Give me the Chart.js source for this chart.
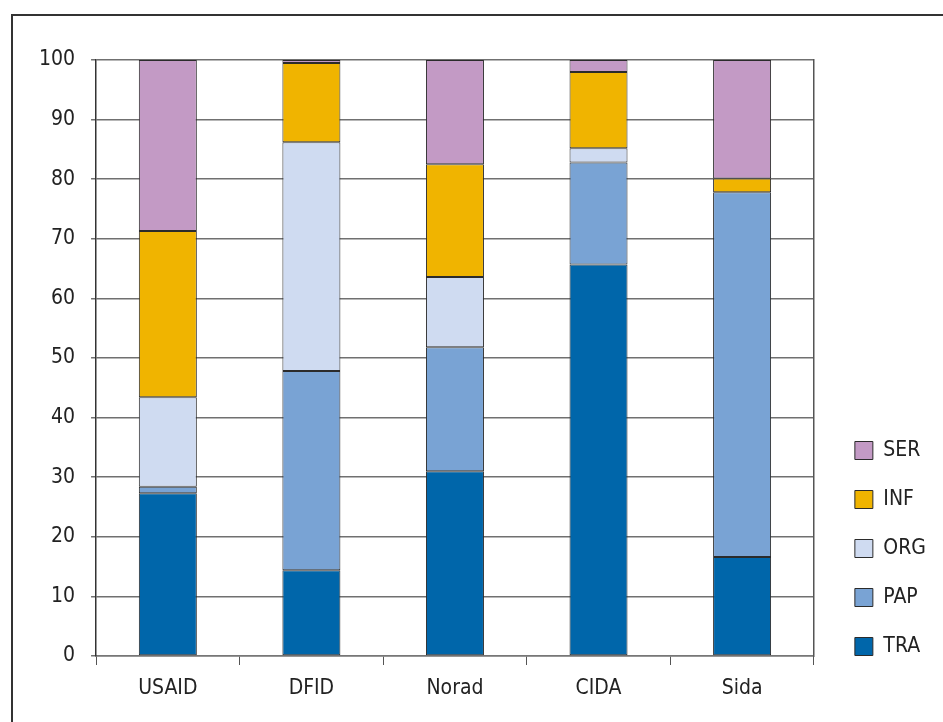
<!DOCTYPE html>
<html>
<head>
<meta charset="utf-8">
<title>Stacked shares by donor</title>
<script src="https://cdn.jsdelivr.net/npm/chart.js@4.4.1/dist/chart.umd.min.js"></script>
<style>
  html, body { margin: 0; padding: 0; background: #fff; }
  #wrap { position: relative; width: 943px; height: 722px; overflow: hidden; }
  #frame {
    position: absolute; left: 11px; top: 14px; width: 1200px; height: 1000px;
    border-left: 2px solid #333; border-top: 2px solid #333;
  }
  #myChart01 { position: absolute; left: 0; top: 0; }
</style>
</head>
<body>
<div id="wrap">
  <div id="frame"></div>
  <canvas id="myChart01" width="943" height="722"></canvas>
</div>
<script>
// donors along the x axis
const donors = ['USAID', 'DFID', 'Norad', 'CIDA', 'Sida'];

// share of each category, per donor (percent)
const traValues = [27.3, 14.4, 31.0, 65.7, 16.6];
const papValues = [1.1, 33.4, 20.8, 17.1, 61.2];
const orgValues = [15.0, 38.4, 11.8, 2.4, 0];
const infValues = [27.9, 13.3, 18.9, 12.8, 2.3];
const serValues = [28.7, 0.5, 17.5, 2.0, 19.9];

const yTicks = [0, 10, 20, 30, 40, 50, 60, 70, 80, 90, 100];

const fontFamily = "'DejaVu Sans Condensed', 'Liberation Sans Narrow', 'Liberation Sans', sans-serif";

function bar(label, data, color) {
    return {
        label: label,
        data: data,
        backgroundColor: color,
        borderColor: '#2b2b2b',
        borderWidth: 1,
        borderSkipped: false,
        barPercentage: 0.404,
        categoryPercentage: 1
    };
}

// the x axis box is kept short (see afterFit) so the legend sits higher;
// stretch it back down after layout so its labels are not clipped
const xLabelRoom = {
    id: 'xLabelRoom',
    afterLayout(chart) {
        chart.scales.x.bottom = chart.height;
    }
};

const ctx01 = document.getElementById('myChart01').getContext('2d');
const myChart01 = new Chart(ctx01, {
    type: 'bar',
    data: {
        labels: donors,
        datasets: [
            bar('TRA', traValues, '#0066aa'),
            bar('PAP', papValues, '#79a3d4'),
            bar('ORG', orgValues, '#cfdbf1'),
            bar('INF', infValues, '#f0b400'),
            bar('SER', serValues, '#c39ac5')
        ]
    },
    options: {
        responsive: false,
        animation: false,
        layout: {
            padding: { left: 23, top: 60, right: 7, bottom: 37 }
        },
        scales: {
            x: {
                stacked: true,
                afterFit(scale) {
                    scale.height = 29;
                },
                grid: {
                    offset: true,
                    drawOnChartArea: false,
                    drawTicks: true,
                    tickLength: 9,
                    color: '#555',
                    lineWidth: 1
                },
                border: { color: '#777', width: 1.5 },
                ticks: {
                    color: '#222',
                    padding: 11,
                    font: { size: 21, family: fontFamily }
                }
            },
            y: {
                stacked: true,
                min: 0,
                max: 100,
                afterBuildTicks(axis) {
                    axis.ticks = yTicks.map(v => ({ value: v }));
                },
                grid: {
                    color: '#707070',
                    lineWidth: 1.5,
                    tickLength: 5
                },
                border: { color: '#333', width: 1.5 },
                ticks: {
                    color: '#222',
                    padding: 16,
                    font: { size: 21, family: fontFamily }
                }
            },
            // blank right axis: closes the plot box and leaves a gap before the legend
            yRight: {
                position: 'right',
                min: 0,
                max: 100,
                afterFit(scale) {
                    scale.width = 13;
                },
                grid: { drawOnChartArea: false, drawTicks: false },
                border: { color: '#555', width: 1.5 },
                ticks: { display: false }
            }
        },
        plugins: {
            tooltip: { enabled: false },
            legend: {
                position: 'right',
                align: 'end',
                reverse: true,
                labels: {
                    color: '#222',
                    boxWidth: 18,
                    boxHeight: 18,
                    padding: 28,
                    font: { size: 21, family: fontFamily }
                }
            }
        }
    },
    plugins: [xLabelRoom]
});
</script>
</body>
</html>
